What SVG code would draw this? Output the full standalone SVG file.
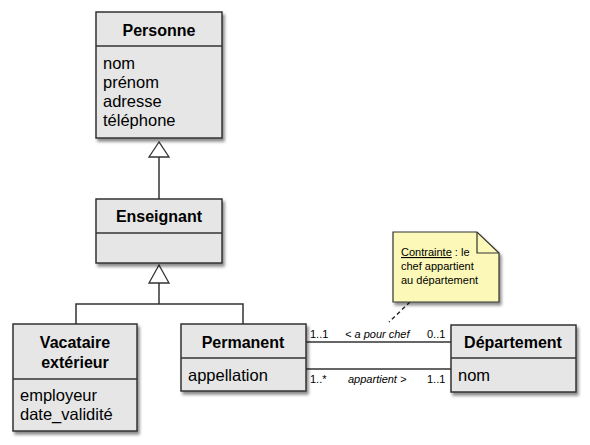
<svg xmlns="http://www.w3.org/2000/svg" width="590" height="445" viewBox="0 0 590 445">
<defs>
<filter id="sh" x="-10%" y="-10%" width="130%" height="130%">
<feDropShadow dx="2" dy="3" stdDeviation="1.5" flood-color="#000" flood-opacity="0.45"/>
</filter>
<style>
.box{fill:#e6e6e6;stroke:#333;stroke-width:1.5}
.sep{stroke:#333;stroke-width:1.5}
.t{font-family:"Liberation Sans",Arial,sans-serif;font-size:16px;font-weight:bold;text-anchor:middle;fill:#000}
.a{font-family:"Liberation Sans",Arial,sans-serif;font-size:16.5px;fill:#000}
.l{font-family:"Liberation Sans",Arial,sans-serif;font-size:11px;fill:#000}
.i{font-style:italic}
.ln{stroke:#333;stroke-width:1.5;fill:none}
.tri{fill:#fff;stroke:#333;stroke-width:1.3}
</style>
</defs>
<rect width="590" height="445" fill="#fff"/>
<g id="connectors">
<line class="ln" x1="159" y1="157" x2="159" y2="199"/>
<polygon class="tri" points="159,142 149,157 169,157"/>
<polyline class="ln" points="76,324 76,304 243,304 243,324"/>
<line class="ln" x1="159" y1="283" x2="159" y2="304"/>
<polygon class="tri" points="159,265 149,283 169,283"/>
<line class="ln" x1="306" y1="342" x2="451" y2="342"/>
<line class="ln" x1="306" y1="369" x2="451" y2="369"/>
<line x1="410" y1="302" x2="389" y2="322" stroke="#222" stroke-width="1.4" stroke-dasharray="4,3"/>
<text class="l" x="310" y="338">1..1</text>
<text class="l i" x="345" y="338">&lt; a pour chef</text>
<text class="l" x="427" y="338">0..1</text>
<text class="l" x="310" y="383">1..*</text>
<text class="l i" x="348" y="383">appartient &gt;</text>
<text class="l" x="427" y="383">1..1</text>
</g>
<g id="personne">
<rect class="box" x="96" y="12" width="126" height="126" filter="url(#sh)"/>
<line class="sep" x1="96" y1="46" x2="222" y2="46"/>
<text class="t" x="159" y="36">Personne</text>
<text class="a" x="103" y="69">nom</text>
<text class="a" x="103" y="88">prénom</text>
<text class="a" x="103" y="107">adresse</text>
<text class="a" x="103" y="126">téléphone</text>
</g>
<g id="enseignant">
<rect class="box" x="96" y="199" width="126" height="64" filter="url(#sh)"/>
<line class="sep" x1="96" y1="233" x2="222" y2="233"/>
<text class="t" x="159" y="222">Enseignant</text>
</g>
<g id="vacataire">
<rect class="box" x="13" y="324" width="124" height="107" filter="url(#sh)"/>
<line class="sep" x1="13" y1="379" x2="137" y2="379"/>
<text class="t" x="75" y="348">Vacataire</text>
<text class="t" x="75" y="368">extérieur</text>
<text class="a" x="20" y="401">employeur</text>
<text class="a" x="20" y="420">date_validité</text>
</g>
<g id="permanent">
<rect class="box" x="181" y="324" width="125" height="67" filter="url(#sh)"/>
<line class="sep" x1="181" y1="358" x2="306" y2="358"/>
<text class="t" x="243" y="348">Permanent</text>
<text class="a" x="188" y="381">appellation</text>
</g>
<g id="departement">
<rect class="box" x="451" y="325" width="125" height="67" filter="url(#sh)"/>
<line class="sep" x1="451" y1="358" x2="576" y2="358"/>
<text class="t" x="513" y="348">Département</text>
<text class="a" x="458" y="381">nom</text>
</g>
<g id="note">
<path d="M393,232 H477 L499,253 V302 H393 Z" fill="#fbf8b8" stroke="#333" stroke-width="1.2" filter="url(#sh)"/>
<path d="M477,232 V253 H499" fill="none" stroke="#333" stroke-width="1.2"/>
<text class="l" x="401" y="256"><tspan text-decoration="underline">Contrainte</tspan> : le</text>
<text class="l" x="401" y="270">chef appartient</text>
<text class="l" x="401" y="284">au département</text>
</g>
</svg>
